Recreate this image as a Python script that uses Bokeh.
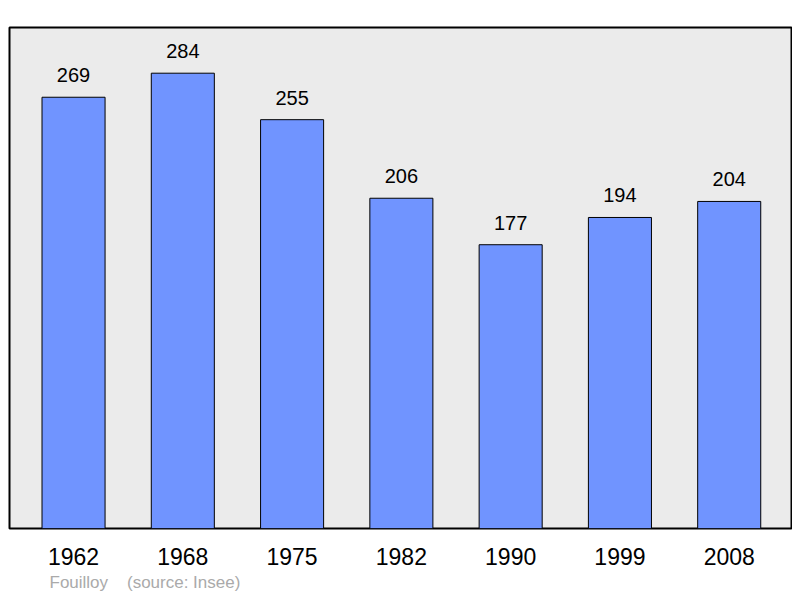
from bokeh.plotting import figure
from bokeh.models import Range1d, FixedTicker, Title, ColumnDataSource
from bokeh.embed import file_html
from bokeh.resources import INLINE
from bokeh.core.properties import value

years = ["1962", "1968", "1975", "1982", "1990", "1999", "2008"]
population = [269, 284, 255, 206, 177, 194, 204]
positions = list(range(len(years)))
source_note = "Fouilloy\u00a0\u00a0\u00a0\u00a0(source: Insee)"

src = ColumnDataSource(dict(x=positions, top=population,
                            label=[str(v) for v in population]))

FONT = "Liberation Sans"

p = figure(width=792, height=598, output_backend="svg", toolbar_location=None,
           x_range=Range1d(-0.586, 6.57), y_range=Range1d(0, 312.5),
           min_border_left=9, min_border_right=1, min_border_top=27,
           min_border_bottom=70)
p.background_fill_color = "#EBEBEB"
p.border_fill_color = "white"
p.outline_line_color = "black"
p.outline_line_width = 2
p.grid.visible = False
p.yaxis.visible = False

p.vbar(x="x", top="top", bottom=0, width=0.577, source=src,
       fill_color="#7094FF", line_color="black", line_width=1)
p.text(x="x", y="top", text="label", source=src, y_offset=-22,
       text_align="center", text_baseline="middle",
       text_font=value(FONT), text_font_size="20px", text_color="black")

ax = p.xaxis[0]
ax.ticker = FixedTicker(ticks=positions)
ax.major_label_overrides = {i: y for i, y in zip(positions, years)}
ax.axis_line_color = None
ax.major_tick_line_color = None
ax.minor_tick_line_color = None
ax.major_label_text_font = FONT
ax.major_label_text_font_size = "23px"
ax.major_label_text_color = "black"
ax.major_label_standoff = 13

note = Title(text=source_note, align="left", offset=40, standoff=6,
             text_font=FONT, text_font_size="17px", text_font_style="normal",
             text_color="#AAAAAA")
p.add_layout(note, "below")

open("out.html", "w").write(file_html(p, INLINE))
